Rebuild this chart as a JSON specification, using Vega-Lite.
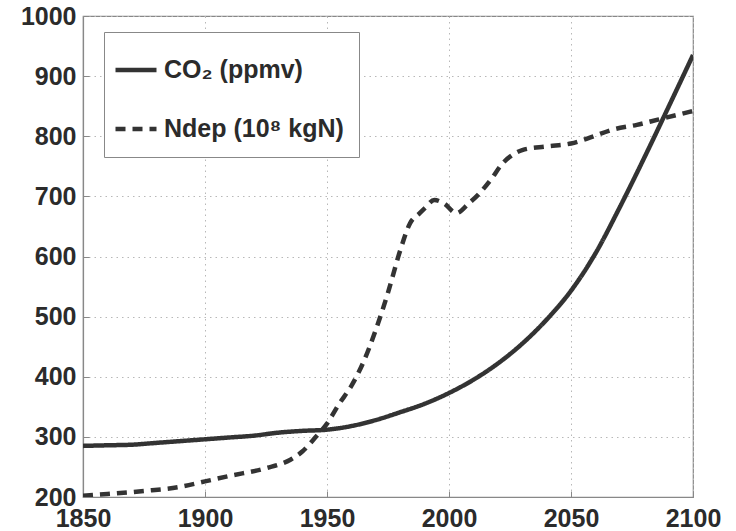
{
  "$schema": "https://vega.github.io/schema/vega-lite/v6.json",
  "width": 610,
  "height": 481,
  "autosize": "none",
  "padding": {"left": 83, "top": 16, "right": 43, "bottom": 34},
  "background": "white",
  "config": {
    "font": "Liberation Sans",
    "view": {"stroke": "#888", "strokeWidth": 1.2},
    "axis": {
      "labelFont": "Liberation Sans",
      "labelFontWeight": "bold",
      "labelFontSize": 25,
      "labelColor": "#2b2b2b",
      "domainColor": "#888",
      "domainWidth": 1.2,
      "tickColor": "#888",
      "tickSize": -6,
      "gridColor": "#b8b8b8",
      "gridDash": [1.5, 4],
      "gridWidth": 1,
      "labelFlush": false,
      "labelOverlap": false,
      "labelBound": false,
      "title": null
    }
  },
  "data": {
    "values": [
      {"year": 1850, "value": 285, "series": "CO₂ (ppmv)"},
      {"year": 1860, "value": 286, "series": "CO₂ (ppmv)"},
      {"year": 1870, "value": 287, "series": "CO₂ (ppmv)"},
      {"year": 1880, "value": 290, "series": "CO₂ (ppmv)"},
      {"year": 1890, "value": 293, "series": "CO₂ (ppmv)"},
      {"year": 1900, "value": 296, "series": "CO₂ (ppmv)"},
      {"year": 1910, "value": 299, "series": "CO₂ (ppmv)"},
      {"year": 1920, "value": 302, "series": "CO₂ (ppmv)"},
      {"year": 1930, "value": 307, "series": "CO₂ (ppmv)"},
      {"year": 1940, "value": 310, "series": "CO₂ (ppmv)"},
      {"year": 1950, "value": 312, "series": "CO₂ (ppmv)"},
      {"year": 1960, "value": 318, "series": "CO₂ (ppmv)"},
      {"year": 1970, "value": 328, "series": "CO₂ (ppmv)"},
      {"year": 1980, "value": 341, "series": "CO₂ (ppmv)"},
      {"year": 1990, "value": 355, "series": "CO₂ (ppmv)"},
      {"year": 2000, "value": 373, "series": "CO₂ (ppmv)"},
      {"year": 2010, "value": 395, "series": "CO₂ (ppmv)"},
      {"year": 2020, "value": 422, "series": "CO₂ (ppmv)"},
      {"year": 2030, "value": 455, "series": "CO₂ (ppmv)"},
      {"year": 2040, "value": 495, "series": "CO₂ (ppmv)"},
      {"year": 2050, "value": 543, "series": "CO₂ (ppmv)"},
      {"year": 2060, "value": 605, "series": "CO₂ (ppmv)"},
      {"year": 2070, "value": 682, "series": "CO₂ (ppmv)"},
      {"year": 2080, "value": 764, "series": "CO₂ (ppmv)"},
      {"year": 2090, "value": 849, "series": "CO₂ (ppmv)"},
      {"year": 2100, "value": 935, "series": "CO₂ (ppmv)"},
      {"year": 1850, "value": 202, "series": "Ndep (10⁸ kgN)"},
      {"year": 1860, "value": 205, "series": "Ndep (10⁸ kgN)"},
      {"year": 1875, "value": 210, "series": "Ndep (10⁸ kgN)"},
      {"year": 1890, "value": 217, "series": "Ndep (10⁸ kgN)"},
      {"year": 1900, "value": 226, "series": "Ndep (10⁸ kgN)"},
      {"year": 1910, "value": 235, "series": "Ndep (10⁸ kgN)"},
      {"year": 1925, "value": 248, "series": "Ndep (10⁸ kgN)"},
      {"year": 1935, "value": 262, "series": "Ndep (10⁸ kgN)"},
      {"year": 1940, "value": 276, "series": "Ndep (10⁸ kgN)"},
      {"year": 1945, "value": 298, "series": "Ndep (10⁸ kgN)"},
      {"year": 1950, "value": 322, "series": "Ndep (10⁸ kgN)"},
      {"year": 1955, "value": 355, "series": "Ndep (10⁸ kgN)"},
      {"year": 1960, "value": 385, "series": "Ndep (10⁸ kgN)"},
      {"year": 1965, "value": 425, "series": "Ndep (10⁸ kgN)"},
      {"year": 1970, "value": 478, "series": "Ndep (10⁸ kgN)"},
      {"year": 1975, "value": 540, "series": "Ndep (10⁸ kgN)"},
      {"year": 1980, "value": 610, "series": "Ndep (10⁸ kgN)"},
      {"year": 1984, "value": 655, "series": "Ndep (10⁸ kgN)"},
      {"year": 1988, "value": 672, "series": "Ndep (10⁸ kgN)"},
      {"year": 1990, "value": 680, "series": "Ndep (10⁸ kgN)"},
      {"year": 1994, "value": 694, "series": "Ndep (10⁸ kgN)"},
      {"year": 1998, "value": 688, "series": "Ndep (10⁸ kgN)"},
      {"year": 2003, "value": 672, "series": "Ndep (10⁸ kgN)"},
      {"year": 2008, "value": 688, "series": "Ndep (10⁸ kgN)"},
      {"year": 2012, "value": 703, "series": "Ndep (10⁸ kgN)"},
      {"year": 2017, "value": 727, "series": "Ndep (10⁸ kgN)"},
      {"year": 2022, "value": 755, "series": "Ndep (10⁸ kgN)"},
      {"year": 2026, "value": 769, "series": "Ndep (10⁸ kgN)"},
      {"year": 2030, "value": 777, "series": "Ndep (10⁸ kgN)"},
      {"year": 2040, "value": 783, "series": "Ndep (10⁸ kgN)"},
      {"year": 2050, "value": 788, "series": "Ndep (10⁸ kgN)"},
      {"year": 2058, "value": 798, "series": "Ndep (10⁸ kgN)"},
      {"year": 2067, "value": 811, "series": "Ndep (10⁸ kgN)"},
      {"year": 2077, "value": 819, "series": "Ndep (10⁸ kgN)"},
      {"year": 2086, "value": 828, "series": "Ndep (10⁸ kgN)"},
      {"year": 2100, "value": 842, "series": "Ndep (10⁸ kgN)"}
    ]
  },
  "mark": {"type": "line", "strokeWidth": 4.5, "color": "#333", "interpolate": "monotone", "strokeCap": "butt", "clip": true},
  "encoding": {
    "x": {
      "field": "year", "type": "quantitative",
      "scale": {"domain": [1850, 2100], "nice": false, "zero": false},
      "axis": {"values": [1850, 1900, 1950, 2000, 2050, 2100], "format": "d", "labelPadding": 15, "grid": true}
    },
    "y": {
      "field": "value", "type": "quantitative",
      "scale": {"domain": [200, 1000], "nice": false, "zero": false},
      "axis": {"values": [200, 300, 400, 500, 600, 700, 800, 900, 1000], "format": "d", "labelPadding": 13, "grid": true}
    },
    "strokeDash": {
      "field": "series", "type": "nominal",
      "scale": {"domain": ["CO₂ (ppmv)", "Ndep (10⁸ kgN)"], "range": [[1, 0], [10, 7]]},
      "legend": {
        "title": null,
        "orient": "none",
        "legendX": 21,
        "legendY": 16,
        "padding": 15,
        "strokeColor": "#888",
        "fillColor": "white",
        "symbolType": "stroke",
        "symbolSize": 1681,
        "symbolStrokeWidth": 4.5,
        "symbolStrokeColor": "#333",
        "symbolOffset": -6,
        "labelFont": "Liberation Sans",
        "labelFontWeight": "bold",
        "labelFontSize": 25,
        "labelColor": "#2b2b2b",
        "labelOffset": 5,
        "labelLimit": 400,
        "rowPadding": 23
      }
    }
  }
}
